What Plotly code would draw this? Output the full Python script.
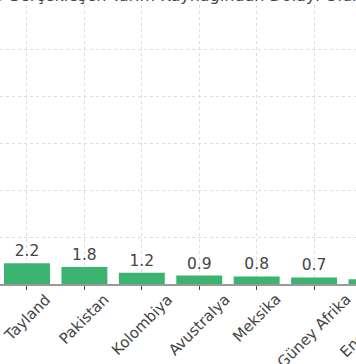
import plotly.graph_objects as go

categories = ["Tayland", "Pakistan", "Kolombiya", "Avustralya", "Meksika", "Güney Afrika", "Endonezya"]
values = [2.2, 1.8, 1.2, 0.9, 0.8, 0.7, 0.5]
value_labels = ["2.2", "1.8", "1.2", "0.9", "0.8", "0.7", "0.5"]
title_text = "Ülkelere Göre Gerçekleşen Tarım Kaynağından Dolayı Ölümler (bin kişi)"

FONT = "DejaVu Sans"
GREEN = "#3cb371"
X_RANGE = [-0.47, 5.73]

def to_paper(i):
    return (i - X_RANGE[0]) / (X_RANGE[1] - X_RANGE[0])

fig = go.Figure()
fig.add_trace(go.Bar(
    x=list(range(len(categories))),
    y=values,
    width=0.8,
    marker=dict(color=GREEN, line=dict(width=0)),
    text=value_labels,
    textposition="outside",
    textfont=dict(family=FONT, size=15.5, color="#444"),
    cliponaxis=False,
    hoverinfo="skip",
))

annotations = []
for i, c in enumerate(categories):
    annotations.append(dict(
        x=to_paper(i), y=0, xref="paper", yref="paper",
        text=c, showarrow=False, textangle=-45,
        xanchor="center", yanchor="top", yshift=-4,
        font=dict(family=FONT, size=15, color="#444"),
    ))
annotations.append(dict(
    x=0.5, y=1.0, xref="paper", yref="paper",
    text=title_text, showarrow=False, borderpad=0,
    xanchor="center", yanchor="bottom", yshift=-1,
    font=dict(family=FONT, size=16, color="#444"),
))

fig.update_layout(
    width=356, height=364,
    margin=dict(l=0, r=0, t=5, b=80),
    paper_bgcolor="white", plot_bgcolor="white",
    showlegend=False,
    bargap=0.2,
    annotations=annotations,
    xaxis=dict(
        range=X_RANGE,
        tickmode="array", tickvals=list(range(len(categories))),
        showticklabels=False,
        ticks="outside", ticklen=4, tickcolor="#444", tickwidth=1,
        showgrid=True, gridcolor="#dddddd", griddash="dot", gridwidth=1,
        showline=True, linecolor="#999999", linewidth=1.5,
        zeroline=False,
    ),
    yaxis=dict(
        range=[0, 29.7],
        dtick=5,
        showticklabels=False,
        showgrid=True, gridcolor="#dddddd", griddash="dot", gridwidth=1,
        zeroline=False, showline=False, ticks="",
    ),
)

fig.write_html("out.html", config={"displayModeBar": False},
               post_script="document.body.style.margin='0px';")
